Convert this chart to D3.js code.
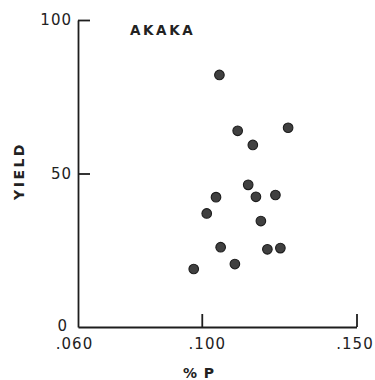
<!DOCTYPE html>
<html>
<head>
<meta charset="utf-8">
<script src="https://cdn.jsdelivr.net/npm/d3@7/dist/d3.min.js"></script>
<style>
  html, body { margin: 0; padding: 0; background: #fff; }
  svg { display: block; }
  .axis path, .axis line { stroke: #1e1e1e; stroke-width: 1.8; }
  .axis text { font-family: "DejaVu Sans", sans-serif; font-size: 15px; fill: #222; letter-spacing: 1px; }
</style>
</head>
<body>
<svg id="chart" width="375" height="380"></svg>
<script>
// Phosphorus content (% P) against yield, Akaka site
const pctP = [0.1057, 0.1116, 0.1279, 0.1165, 0.1150, 0.1046, 0.1175, 0.1238,
              0.1016, 0.1191, 0.1061, 0.1212, 0.1254, 0.1107, 0.0974];
const yieldVals = [82.1, 63.9, 64.9, 59.3, 46.3, 42.3, 42.4, 43.0,
                   37.0, 34.5, 26.0, 25.3, 25.7, 20.5, 18.9];
const xTicks = [0.060, 0.100, 0.150];
const xTickLabels = [".060", ".100", ".150"];
const yTicks = [0, 50, 100];
const yTickLabels = ["0", "50", "100"];

const svg = d3.select("#chart");

const x = d3.scaleLinear().domain([0.060, 0.150]).range([78, 356.5]);
const y = d3.scaleLinear().domain([0, 100]).range([327, 20]);

// Y axis: ticks point inward
const yAxis = d3.axisLeft(y)
  .tickValues(yTicks)
  .tickFormat((d, i) => yTickLabels[i])
  .tickSizeInner(-12)
  .tickSizeOuter(0)
  .tickPadding(6);
const gy = svg.append("g").attr("class", "axis")
  .attr("transform", `translate(${x(0.060)},0)`)
  .call(yAxis);
gy.selectAll(".tick").filter(d => d === 0).select("line").remove();
gy.selectAll(".tick").filter(d => d === 0).select("text").attr("x", -10).attr("dy", "0.25em");

// X axis: ticks point upward
const xAxis = d3.axisBottom(x)
  .tickValues(xTicks)
  .tickFormat((d, i) => xTickLabels[i])
  .tickSizeInner(-13)
  .tickSizeOuter(0)
  .tickPadding(11);
const gx = svg.append("g").attr("class", "axis")
  .attr("transform", `translate(0,${y(0)})`)
  .call(xAxis);
gx.selectAll(".tick").filter(d => d === 0.060).select("line").remove();
gx.selectAll(".tick").filter(d => d === 0.060).select("text").attr("dx", "-4");
gx.selectAll(".tick").filter(d => d === 0.100).select("text").attr("dx", "5");
gx.selectAll(".tick").filter(d => d === 0.150).select("text").attr("dx", "-2");

// Data points
svg.append("g").selectAll("circle")
  .data(pctP.map((p, i) => ({ p, v: yieldVals[i] })))
  .join("circle")
  .attr("cx", d => x(d.p))
  .attr("cy", d => y(d.v))
  .attr("r", 4.8)
  .attr("fill", "#404040")
  .attr("stroke", "#1c1c1c")
  .attr("stroke-width", 1.1);

// Title
svg.append("text")
  .attr("x", 130).attr("y", 35)
  .attr("font-family", "DejaVu Sans, sans-serif")
  .attr("font-weight", "bold")
  .attr("font-size", 13.5)
  .attr("letter-spacing", 2.6)
  .attr("fill", "#222")
  .text("AKAKA");

// Axis titles
svg.append("text")
  .attr("transform", "translate(24,171) rotate(-90)")
  .attr("text-anchor", "middle")
  .attr("font-family", "DejaVu Sans, sans-serif")
  .attr("font-weight", "bold")
  .attr("font-size", 14)
  .attr("letter-spacing", 2.5)
  .attr("fill", "#222")
  .text("YIELD");

svg.append("text")
  .attr("x", 199).attr("y", 378)
  .attr("text-anchor", "middle")
  .attr("font-family", "DejaVu Sans, sans-serif")
  .attr("font-weight", "bold")
  .attr("font-size", 14)
  .attr("letter-spacing", 1)
  .attr("fill", "#222")
  .text("% P");
</script>
</body>
</html>
